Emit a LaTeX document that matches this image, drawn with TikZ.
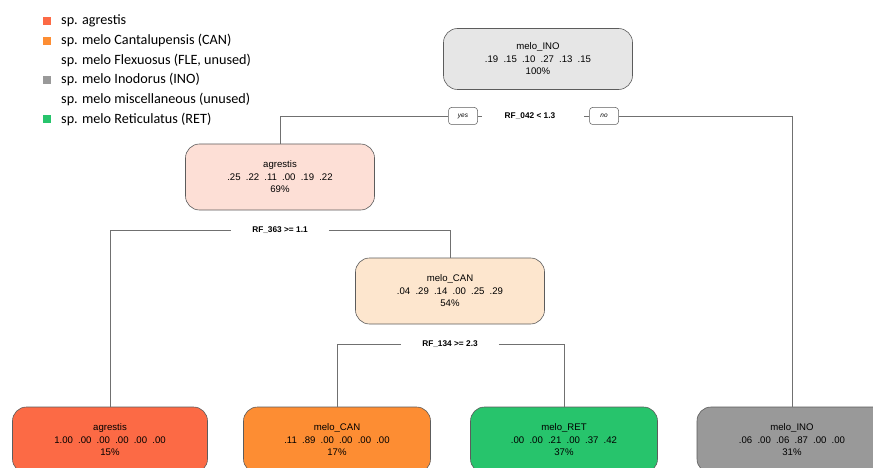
\documentclass[tikz,border=0pt]{standalone}
\usepackage{fontspec}
\setmainfont{Liberation Sans}
\newfontfamily\legfont{Carlito}
\definecolor{rootfill}{HTML}{E6E6E6}
\definecolor{agrlight}{HTML}{FDDFD6}
\definecolor{canlight}{HTML}{FDE6CE}
\definecolor{agrfull}{HTML}{FC6A45}
\definecolor{canfull}{HTML}{FD8D33}
\definecolor{retfull}{HTML}{27C46C}
\definecolor{inofull}{HTML}{999999}
\definecolor{edgecol}{HTML}{5C5C5C}
\definecolor{linecol}{HTML}{707070}
\newcommand\gp{\hspace{5.2pt}}
\tikzset{
  treebox/.style={draw=edgecol, line width=0.6pt, rounded corners=14pt, minimum width=189pt, minimum height=64pt, align=center, inner sep=0pt, font=\fontsize{9.6}{12.5}\selectfont},
  conn/.style={draw=linecol, line width=0.8pt},
  splitlab/.style={fill=white, inner ysep=2pt, inner xsep=21pt, font=\fontsize{8.3}{10}\selectfont\bfseries},
  yesno/.style={draw=edgecol, line width=0.5pt, rounded corners=3pt, minimum width=29pt, minimum height=17pt, inner sep=0pt, font=\fontsize{6.5}{7}\selectfont\itshape, fill=white},
  legsq/.style={minimum size=8.5pt, inner sep=0pt},
  legtxt/.style={anchor=west, inner sep=0pt, font=\legfont\fontsize{14.2}{16}\selectfont}
}
\begin{document}
\begin{tikzpicture}[x=1pt,y=-1pt]
\useasboundingbox (0,0) rectangle (873,468);
\clip (0,0) rectangle (873,468);
% legend
\node[legsq, fill=agrfull] (sqa) at (47,21) {};
\node[legsq, fill=canfull] (sqc) at (47,41) {};
\node[legsq, fill=inofull] (sqi) at (47,80) {};
\node[legsq, fill=retfull] (sqr) at (47,119) {};
\node[legtxt] (la) at (61,20.5) {sp. agrestis};
\node[legtxt] (lc) at (61,40) {sp. melo Cantalupensis (CAN)};
\node[legtxt] (lf) at (61,60) {sp. melo Flexuosus (FLE, unused)};
\node[legtxt] (li) at (61,79.5) {sp. melo Inodorus (INO)};
\node[legtxt] (lm) at (61,99.5) {sp. melo miscellaneous (unused)};
\node[legtxt] (lr) at (61,119) {sp. melo Reticulatus (RET)};
% internal nodes
\node[treebox, fill=rootfill, minimum height=61pt] (root) at (538,59) {melo\_INO\\.19\gp.15\gp.10\gp.27\gp.13\gp.15\\100\%};
\node[treebox, fill=agrlight, minimum height=66pt] (agr) at (280,177) {agrestis\\.25\gp.22\gp.11\gp.00\gp.19\gp.22\\69\%};
\node[treebox, fill=canlight, minimum height=66pt] (can) at (450,291) {melo\_CAN\\.04\gp.29\gp.14\gp.00\gp.25\gp.29\\54\%};
% leaves
\node[treebox, fill=agrfull, minimum width=195pt, minimum height=66pt] (lagr) at (110,440) {agrestis\\1.00\gp.00\gp.00\gp.00\gp.00\gp.00\\15\%};
\node[treebox, fill=canfull, minimum width=187pt, minimum height=66pt] (lcan) at (337,440) {melo\_CAN\\.11\gp.89\gp.00\gp.00\gp.00\gp.00\\17\%};
\node[treebox, fill=retfull, minimum width=187pt, minimum height=66pt] (lret) at (564,440) {melo\_RET\\.00\gp.00\gp.21\gp.00\gp.37\gp.42\\37\%};
\node[treebox, fill=inofull, minimum width=190pt, minimum height=66pt] (lino) at (792,440) {melo\_INO\\.06\gp.00\gp.06\gp.87\gp.00\gp.00\\31\%};
% split 1
\node[yesno] (yes) at (463,116) {yes};
\node[yesno] (no) at (604,116) {no};
\node[splitlab, inner xsep=0pt] (s1) at (530,116) {RF\_042 < 1.3};
\draw[conn] (agr.north) |- (yes.west);
\draw[conn] (yes.east) -- ([xshift=4pt]yes.east);
\draw[conn] (no.west) -- ([xshift=-5pt]no.west);
\draw[conn] (no.east) -| (lino.north);
% split 2
\node[splitlab] (s2) at (280,230) {RF\_363 >= 1.1};
\draw[conn] (lagr.north) |- (s2.west);
\draw[conn] (s2.east) -| (can.north);
% split 3
\node[splitlab] (s3) at (450,344) {RF\_134 >= 2.3};
\draw[conn] (lcan.north) |- (s3.west);
\draw[conn] (s3.east) -| (lret.north);
\end{tikzpicture}
\end{document}
